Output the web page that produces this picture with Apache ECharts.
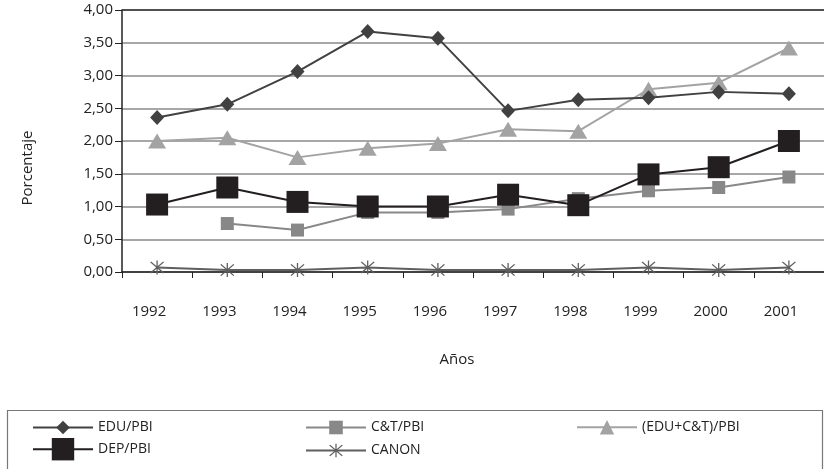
<!DOCTYPE html>
<html><head><meta charset="utf-8">
<script src="https://cdn.jsdelivr.net/npm/echarts@6/dist/echarts.min.js"></script>
<style>html,body{margin:0;padding:0;background:#fff}#c{width:824px;height:469px}</style>
</head><body><div id="c"></div>
<script>
var years = ['1992','1993','1994','1995','1996','1997','1998','1999','2000','2001'];
var eduPbi = [2.36, 2.56, 3.06, 3.67, 3.57, 2.46, 2.63, 2.66, 2.75, 2.72];
var ctPbi = [null, 0.74, 0.64, 0.91, 0.91, 0.96, 1.12, 1.24, 1.29, 1.45];
var eduCtPbi = [2.00, 2.05, 1.75, 1.89, 1.96, 2.18, 2.15, 2.79, 2.89, 3.42];
var depPbi = [1.03, 1.29, 1.07, 1.00, 1.00, 1.18, 1.02, 1.49, 1.60, 2.00];
var canon = [0.07, 0.03, 0.03, 0.07, 0.03, 0.03, 0.03, 0.07, 0.03, 0.07];
var yTicks = [0, 0.5, 1, 1.5, 2, 2.5, 3, 3.5, 4];

var star = 'path://M9.2,0L10.8,0L10.8,20L9.2,20Z M1.4,2.6L2.6,1.4L18.6,17.4L17.4,18.6Z M17.4,1.4L18.6,2.6L2.6,18.6L1.4,17.4Z';
var FONT = '"Open Sans", sans-serif';

var chart = echarts.init(document.getElementById('c'), null, {renderer:'canvas'});
function leg(name, left, center, h){
  return {data:[name], left:left, top:center - h/2, itemWidth:60, itemHeight:h, itemGap:0,
    textStyle:{fontFamily:FONT, fontSize:14, color:'#222'}, padding:0};
}
chart.setOption({
  animation:false,
  grid:{left:122, top:10, width:714, height:262, containLabel:false},
  xAxis:{type:'category', data:years, boundaryGap:true,
    axisLine:{lineStyle:{color:'#222', width:1.5}},
    axisTick:{show:true, inside:false, length:6, lineStyle:{color:'#222'}},
    axisLabel:{margin:32, fontFamily:FONT, fontSize:15, color:'#222', padding:[0,16,0,0]},
    name:'Años', nameLocation:'middle', nameGap:80,
    nameTextStyle:{fontFamily:FONT, fontSize:15, color:'#222', padding:[0,32,0,0]}},
  yAxis:{type:'value', min:0, max:4, interval:0.5,
    axisLine:{show:true, lineStyle:{color:'#222', width:1.5}},
    axisTick:{show:true, length:7, lineStyle:{color:'#222'}},
    splitLine:{lineStyle:{color:'#8a8a8a', width:1.5}},
    axisLabel:{margin:9, fontFamily:FONT, fontSize:15, color:'#222',
      formatter:function(v){return v.toFixed(2).replace('.',',');}},
    name:'Porcentaje', nameLocation:'middle', nameGap:87, nameRotate:90,
    nameTextStyle:{fontFamily:FONT, fontSize:15, color:'#222', padding:[0,54,0,0]}},
  legend:[leg('EDU/PBI',32,429,17), leg('DEP/PBI',32,452,28), leg('C&T/PBI',305,429,17), leg('CANON',305,452,17), leg('(EDU+C&T)/PBI',576,429,18)],
  graphic:[
    {type:'rect', shape:{x:7.5,y:410.5,width:815,height:80}, style:{fill:'none', stroke:'#777', lineWidth:1.2}, z:-1},
    {type:'line', shape:{x1:122,y1:10,x2:824,y2:10}, style:{stroke:'#333', lineWidth:1.5}, z:1}
  ],
  series:[
    {name:'CANON', type:'line', data:canon, symbol:star, symbolSize:14,
      itemStyle:{color:'#5f5f5f'}, lineStyle:{color:'#5f5f5f', width:2}, z:2},
    {name:'C&T/PBI', type:'line', data:ctPbi, symbol:'rect', symbolSize:13,
      itemStyle:{color:'#888'}, lineStyle:{color:'#888', width:2}, z:3},
    {name:'(EDU+C&T)/PBI', type:'line', data:eduCtPbi, symbol:'triangle', symbolSize:[18,15],
      itemStyle:{color:'#a3a3a3'}, lineStyle:{color:'#a3a3a3', width:2}, z:4},
    {name:'DEP/PBI', type:'line', data:depPbi, symbol:'rect', symbolSize:22,
      itemStyle:{color:'#231f20'}, lineStyle:{color:'#231f20', width:2}, z:5},
    {name:'EDU/PBI', type:'line', data:eduPbi, symbol:'diamond', symbolSize:[14,15],
      itemStyle:{color:'#414141'}, lineStyle:{color:'#414141', width:2}, z:6}
  ]
});
</script></body></html>
